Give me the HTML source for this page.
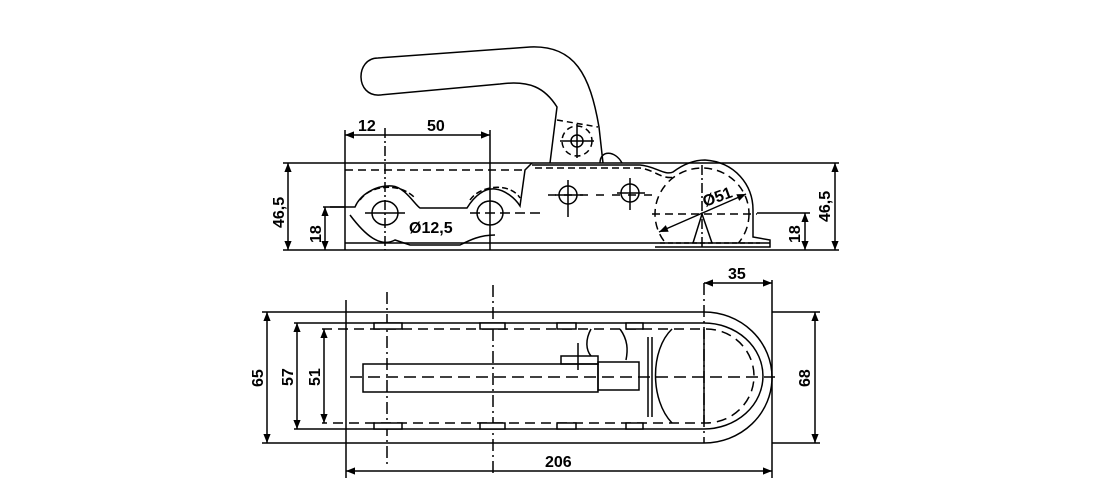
<!DOCTYPE html>
<html><head><meta charset="utf-8"><style>
html,body{margin:0;padding:0;background:#fff;}
svg{display:block;}
text{font-family:"Liberation Sans",sans-serif;font-weight:bold;font-size:16px;fill:#000;}
</style></head><body>
<svg width="1101" height="489" viewBox="0 0 1101 489" xmlns="http://www.w3.org/2000/svg">
<defs>
<marker id="a" viewBox="0 0 10 10" refX="10" refY="5" markerWidth="8" markerHeight="6" orient="auto-start-reverse"><path d="M0,1 L10,5 L0,9 z" fill="#000"/></marker>
<clipPath id="c"><rect x="0" y="0" width="1101" height="243"/></clipPath>
</defs>
<g fill="none" stroke="#000" stroke-width="1.5">
<line x1="283" y1="163" x2="839" y2="163"/>
<line x1="345" y1="243" x2="770" y2="243"/>
<line x1="283" y1="250" x2="839" y2="250"/>
<line x1="345" y1="130" x2="345" y2="250"/>
<line x1="490" y1="130" x2="490" y2="250"/>
<line x1="385" y1="128" x2="385" y2="250" stroke-dasharray="10,3,2,3"/>
<line x1="345" y1="170" x2="525" y2="170" stroke-dasharray="8,5"/>
<path d="M550,163 L557,107 C545,88 530,80 500,84 L380,95 C355,97 355,58 378,58 L530,47 C575,45 590,75 599,127 L603,163"/>
<path d="M557,120 L598,127" stroke-dasharray="6,4"/>
<circle cx="577" cy="141" r="15" stroke-dasharray="6,4"/>
<line x1="560" y1="141" x2="594" y2="141"/><line x1="577" y1="124" x2="577" y2="158"/>
<circle cx="577" cy="141" r="6"/>
<path d="M600,163 C600,150 615,150 622,163"/>
<path d="M330,207 L355,207 C360,195 375,185 392,186 C405,187 415,205 420,208 L467,208 C475,195 485,188 495,189 C505,190 515,198 520,206 L525,170 L532,163"/>
<path d="M350,215 C365,235 380,248 395,240 L410,245 L460,245 C470,240 480,235 495,235"/>
<path d="M360,200 C370,185 400,182 415,198" stroke-dasharray="6,3"/>
<path d="M470,200 C480,185 510,182 520,198" stroke-dasharray="6,3"/>
<ellipse cx="385" cy="213" rx="13" ry="12"/><ellipse cx="490" cy="213" rx="13" ry="12"/>
<line x1="365" y1="213" x2="405" y2="213"/><line x1="470" y1="213" x2="540" y2="213" stroke-dasharray="10,5"/>
<line x1="548" y1="195" x2="655" y2="195" stroke-dasharray="8,8"/>
<circle cx="568" cy="195" r="9"/><circle cx="630" cy="193" r="9"/>
<line x1="568" y1="180" x2="568" y2="217"/><line x1="630" y1="178" x2="630" y2="210"/>
<line x1="555" y1="195" x2="583" y2="195"/><line x1="617" y1="193" x2="645" y2="193"/>
<path d="M532,165 L640,165 C655,166 665,176 673,172 C685,163 695,160 705,160 C735,162 753,185 753,210 L753,237 L770,240 L770,247 L655,247"/>
<path d="M535,168 L640,168 C655,170 662,180 675,177" stroke-dasharray="7,4"/>
<ellipse cx="702" cy="214" rx="47" ry="46" stroke-dasharray="8,5" clip-path="url(#c)"/>
<line x1="652" y1="214" x2="757" y2="214" stroke-dasharray="8,5"/>
<line x1="702" y1="165" x2="702" y2="250" stroke-dasharray="10,3,2,3"/>
<line x1="659" y1="232" x2="746" y2="194" marker-start="url(#a)" marker-end="url(#a)"/>
<path d="M693,243 L702,214 L712,243"/>
<line x1="660" y1="243" x2="760" y2="243" stroke-dasharray="5,3"/>
<line x1="345" y1="135" x2="490" y2="135" marker-start="url(#a)" marker-end="url(#a)"/>
<line x1="288" y1="163" x2="288" y2="250" marker-start="url(#a)" marker-end="url(#a)"/>
<line x1="323" y1="207" x2="345" y2="207"/>
<line x1="325" y1="207" x2="325" y2="250" marker-start="url(#a)" marker-end="url(#a)"/>
<line x1="757" y1="213" x2="810" y2="213"/>
<line x1="805" y1="213" x2="805" y2="250" marker-start="url(#a)" marker-end="url(#a)"/>
<line x1="835" y1="163" x2="835" y2="250" marker-start="url(#a)" marker-end="url(#a)"/>
<path d="M262,312 L704,312 A68,65.5 0 0 1 704,443 L262,443"/>
<line x1="346" y1="300" x2="346" y2="478"/>
<path d="M294,323 L704,323 A59,53 0 0 1 704,429 L294,429"/>
<path d="M322,329 L706,329 A48,47 0 0 1 706,423 L322,423" stroke-dasharray="10,6"/>
<line x1="350" y1="377" x2="775" y2="377" stroke-dasharray="12,6"/>
<line x1="387" y1="292" x2="387" y2="465" stroke-dasharray="12,4,2,4"/>
<line x1="493" y1="285" x2="493" y2="475" stroke-dasharray="12,4,2,4"/>
<line x1="704" y1="283" x2="704" y2="443" stroke-dasharray="12,4,2,4"/>
<rect x="363" y="364" width="235" height="28"/>
<rect x="598" y="362" width="41" height="28"/>
<rect x="561" y="356" width="37" height="8"/>
<line x1="578" y1="343" x2="578" y2="370"/>
<path d="M591,329 C585,340 586,350 591,356"/><path d="M620,329 C628,340 628,350 626,360"/>
<line x1="648" y1="337" x2="648" y2="417"/><line x1="652" y1="337" x2="652" y2="417"/>
<path d="M672,329 C650,350 650,400 672,423"/><path d="M704,329 L704,423"/>
<g fill="#fff">
<rect x="374" y="323" width="28" height="6"/><rect x="480" y="323" width="25" height="6"/><rect x="557" y="323" width="19" height="6"/><rect x="626" y="323" width="17" height="6"/>
<rect x="374" y="423" width="28" height="6"/><rect x="480" y="423" width="25" height="6"/><rect x="557" y="423" width="19" height="6"/><rect x="626" y="423" width="17" height="6"/>
</g>
<line x1="267" y1="312" x2="267" y2="443" marker-start="url(#a)" marker-end="url(#a)"/>
<line x1="297" y1="323" x2="297" y2="429" marker-start="url(#a)" marker-end="url(#a)"/>
<line x1="324" y1="329" x2="324" y2="423" marker-start="url(#a)" marker-end="url(#a)"/>
<line x1="772" y1="280" x2="772" y2="478"/>
<line x1="704" y1="283" x2="772" y2="283" marker-start="url(#a)" marker-end="url(#a)"/>
<line x1="346" y1="471" x2="772" y2="471" marker-start="url(#a)" marker-end="url(#a)"/>
<line x1="772" y1="312" x2="820" y2="312"/><line x1="772" y1="443" x2="820" y2="443"/>
<line x1="815" y1="312" x2="815" y2="443" marker-start="url(#a)" marker-end="url(#a)"/>
</g>
<text x="358" y="131">12</text>
<text x="427" y="131">50</text>
<text x="409" y="233">Ø12,5</text>
<text transform="translate(705,207) rotate(-20)">Ø51</text>
<text transform="translate(284,228) rotate(-90)">46,5</text>
<text transform="translate(321,243) rotate(-90)">18</text>
<text transform="translate(800,243) rotate(-90)">18</text>
<text transform="translate(830,222) rotate(-90)">46,5</text>
<text x="728" y="279">35</text>
<text x="545" y="467">206</text>
<text transform="translate(263,387) rotate(-90)">65</text>
<text transform="translate(293,386) rotate(-90)">57</text>
<text transform="translate(320,386) rotate(-90)">51</text>
<text transform="translate(810,387) rotate(-90)">68</text>
</svg>
</body></html>
